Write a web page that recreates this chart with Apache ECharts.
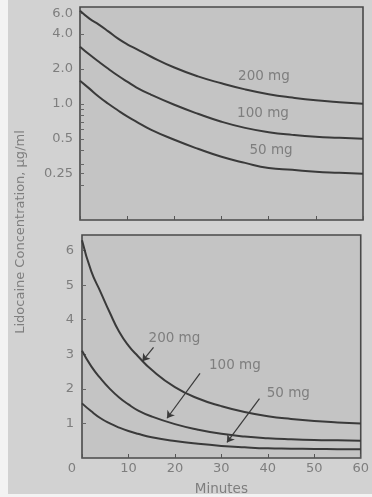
<!DOCTYPE html>
<html>
<head>
<meta charset="utf-8">
<script src="https://cdn.jsdelivr.net/npm/echarts@6/dist/echarts.min.js"></script>
<style>
    html, body { margin: 0; padding: 0; background: #f3f3f3; }
    #container { width: 372px; height: 497px; }
</style>
</head>
<body>
<div id="container"></div>
<script>
    // 时间（分钟）
    let minutes = [0, 2, 4, 6, 8, 10, 12, 15, 20, 25, 30, 35, 40, 45, 50, 55, 60];
    // 浓度 μg/ml
    let dose200 = [6.3, 5.4, 4.8, 4.2, 3.65, 3.25, 2.95, 2.55, 2.05, 1.72, 1.5, 1.33, 1.21, 1.13, 1.07, 1.03, 1.0];
    let dose100 = [3.1, 2.65, 2.3, 2.0, 1.75, 1.55, 1.38, 1.2, 0.98, 0.82, 0.7, 0.62, 0.57, 0.54, 0.52, 0.51, 0.5];
    let dose50 = [1.58, 1.35, 1.15, 1.0, 0.88, 0.78, 0.7, 0.6, 0.49, 0.41, 0.35, 0.31, 0.28, 0.27, 0.26, 0.255, 0.25];
    let doseNames = ['200 mg', '100 mg', '50 mg'];
    let logTicks = [0.25, 0.5, 1, 2, 4, 6];
    let logMinor = [0.2, 0.25, 0.3, 0.4, 0.5, 0.6, 0.7, 0.8, 0.9, 1, 2, 4, 6];
    let linTicks = [1, 2, 3, 4, 5, 6];

    let lineColor = '#3a3a3a';
    let textColor = '#7e7e7e';
    let font = 'DejaVu Sans';

    function pairs(values) {
        return minutes.map(function (t, i) { return [t, values[i]]; });
    }

    // 曲线旁的文字
    function textMark(name, coord) {
        return {
            symbol: 'circle',
            symbolSize: 0,
            silent: true,
            label: {
                show: true, position: 'inside', formatter: name,
                color: textColor, fontSize: 13.5, fontFamily: font
            },
            data: [{coord: coord}]
        };
    }

    // 指向曲线的箭头
    function arrowMark(from, to) {
        return {
            silent: true,
            symbol: ['none', 'arrow'],
            symbolSize: 7,
            lineStyle: {color: lineColor, width: 1.2, type: 'solid'},
            label: {show: false},
            data: [[{coord: from}, {coord: to}]]
        };
    }

    function curve(name, values, axis, extra) {
        let s = {
            name: name,
            type: 'line',
            xAxisIndex: axis,
            yAxisIndex: axis,
            data: pairs(values),
            smooth: 0.5,
            showSymbol: false,
            lineStyle: {color: lineColor, width: 2},
            silent: true
        };
        return Object.assign(s, extra || {});
    }

    let myChart = echarts.init(document.getElementById('container'));
    let option = {
        backgroundColor: '#f3f3f3',
        animation: false,
        textStyle: {fontFamily: font},
        graphic: [{
            type: 'rect', z: -10,
            shape: {x: 8, y: 0, width: 364, height: 494},
            style: {fill: '#d2d2d2'}
        }, {
            type: 'text', x: 21, y: 232, rotation: Math.PI / 2,
            style: {
                text: 'Lidocaine Concentration, μg/ml',
                fill: textColor, fontSize: 13, fontFamily: font,
                align: 'center', verticalAlign: 'middle'
            }
        }],
        grid: [
            {left: 80, top: 7, right: 9, height: 213, show: true, backgroundColor: '#c4c4c4', borderColor: '#4a4a4a', borderWidth: 1.6},
            {left: 82, top: 235, right: 9, height: 223, show: true, backgroundColor: '#c4c4c4', borderColor: '#4a4a4a', borderWidth: 1.6}
        ],
        xAxis: [{
            gridIndex: 0, type: 'value', min: 0, max: 60, interval: 10,
            axisLine: {show: false},
            axisTick: {show: true, inside: true, length: 4, lineStyle: {color: '#555'}},
            axisLabel: {show: false},
            splitLine: {show: false}
        }, {
            gridIndex: 1, type: 'value', min: 0, max: 60, interval: 10,
            name: 'Minutes', nameLocation: 'middle', nameGap: 24,
            nameTextStyle: {color: textColor, fontSize: 13.5, fontFamily: font},
            axisLine: {show: false},
            axisTick: {show: true, inside: true, length: 4, lineStyle: {color: '#555'}},
            axisLabel: {
                color: textColor, fontSize: 13, margin: 4, fontFamily: font,
                alignMinLabel: 'right',
                formatter: function (v) { return v === 0 ? '{z|0}' : String(v); },
                rich: {z: {padding: [0, 6, 0, 0], color: textColor, fontSize: 13, fontFamily: font}}
            },
            splitLine: {show: false}
        }],
        yAxis: [{
            gridIndex: 0, type: 'log', logBase: 2, min: 0.1, max: 6.8,
            axisLine: {show: false},
            axisTick: {show: true, inside: true, length: 4, customValues: logMinor, lineStyle: {color: '#666'}},
            axisLabel: {
                color: textColor, fontSize: 13, margin: 7, customValues: logTicks, fontFamily: font,
                formatter: function (v) { return v >= 1 ? v.toFixed(1) : String(v); }
            },
            splitLine: {show: false}
        }, {
            gridIndex: 1, type: 'value', min: 0, max: 6.45,
            axisLine: {show: false},
            axisTick: {show: true, inside: true, length: 4, customValues: linTicks, lineStyle: {color: '#666'}},
            axisLabel: {color: textColor, fontSize: 13, margin: 8, customValues: linTicks, fontFamily: font},
            splitLine: {show: false}
        }],
        series: [
            curve(doseNames[0], dose200, 0, {markPoint: textMark(doseNames[0], [39, 1.71])}),
            curve(doseNames[1], dose100, 0, {markPoint: textMark(doseNames[1], [38.8, 0.82])}),
            curve(doseNames[2], dose50, 0, {markPoint: textMark(doseNames[2], [40.5, 0.4])}),
            curve(doseNames[0], dose200, 1, {
                markPoint: textMark(doseNames[0], [19.9, 3.46]),
                markLine: arrowMark([15.4, 3.2], [13.0, 2.8])
            }),
            curve(doseNames[1], dose100, 1, {
                markPoint: textMark(doseNames[1], [32.9, 2.68]),
                markLine: arrowMark([25.4, 2.45], [18.3, 1.15])
            }),
            curve(doseNames[2], dose50, 1, {
                markPoint: textMark(doseNames[2], [44.4, 1.87]),
                markLine: arrowMark([38.2, 1.72], [31.2, 0.45])
            })
        ]
    };
    myChart.setOption(option);
</script>
</body>
</html>
